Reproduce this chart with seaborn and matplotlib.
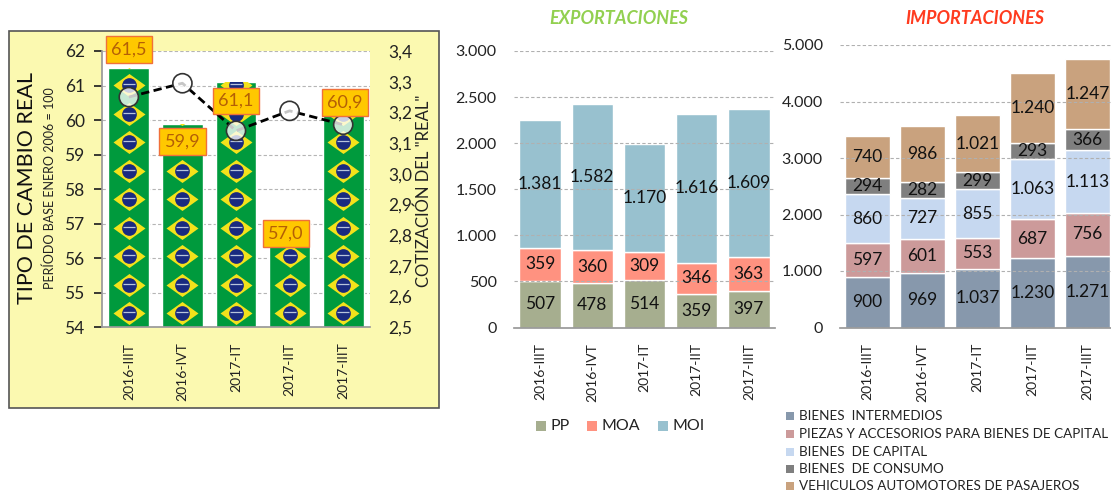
import matplotlib
matplotlib.use("Agg")
import matplotlib.pyplot as plt
import seaborn as sns
import numpy as np
from matplotlib.patches import Rectangle
from matplotlib.path import Path

W, H = 1111, 491
periods = ["2016-IIIT", "2016-IVT", "2017-IT", "2017-IIT", "2017-IIIT"]
tcr = [61.5, 59.9, 61.1, 57.0, 60.9]
real = [3.25, 3.295, 3.14, 3.205, 3.16]
tcr_labels = ["61,5", "59,9", "61,1", "57,0", "60,9"]
label_x = [0.0, 1.0, 2.0, 2.93, 4.03]
label_y = [62.05, 59.37, 60.55, 56.72, 60.5]

pp = [507, 478, 514, 359, 397]
moa = [359, 360, 309, 346, 363]
moi = [1381, 1582, 1170, 1616, 1609]
exp_series = [("PP", pp, "#A6AE8F"), ("MOA", moa, "#FF9280"), ("MOI", moi, "#98C1CF")]

intermedios = [900, 969, 1037, 1230, 1271]
piezas = [597, 601, 553, 687, 756]
capital = [860, 727, 855, 1063, 1113]
consumo = [294, 282, 299, 293, 366]
vehiculos = [740, 986, 1021, 1240, 1247]
imp_series = [
    ("BIENES  INTERMEDIOS", intermedios, "#8798AC"),
    ("PIEZAS Y ACCESORIOS PARA BIENES DE CAPITAL", piezas, "#CC9A9A"),
    ("BIENES  DE CAPITAL", capital, "#C6D8F0"),
    ("BIENES  DE CONSUMO", consumo, "#7F7F7F"),
    ("VEHICULOS AUTOMOTORES DE PASAJEROS", vehiculos, "#C9A27E"),
]

sns.set_theme(style="white")
plt.rcParams["font.family"] = ["Lato", "DejaVu Sans"]
TXT = "#222222"

fig = plt.figure(figsize=(W / 100, H / 100), dpi=100, facecolor="white")

def axes_px(x0, y0, x1, y1):
    return fig.add_axes([x0 / W, 1 - y1 / H, (x1 - x0) / W, (y1 - y0) / H])

def fmt(v):
    return f"{v:,}".replace(",", ".")

def grid_only(ax):
    ax.yaxis.grid(True, color="#B0B0B0", linestyle=(0, (3, 2)), linewidth=0.8)
    ax.set_axisbelow(False)
    ax.xaxis.grid(False)

# Yellow panel
fig.add_artist(Rectangle((9 / W, 1 - 408 / H), 430 / W, 377 / H, transform=fig.transFigure,
                         facecolor="#FBF9B0", edgecolor="#555555", linewidth=1.2, zorder=-5))

# Left chart
ax = axes_px(102, 51, 370, 327.3)
ax.set_facecolor("white")
sns.barplot(x=periods, y=tcr, color="#009A3D", saturation=1, width=0.76, ax=ax, zorder=2)
ax.set_ylim(54, 62)
ax.set_xlim(-0.5, 4.5)
ax.set_yticks(range(54, 63))
ax.yaxis.grid(True, color="#B5B5B5", linestyle=(0, (3, 2)), linewidth=0.8, zorder=1)
ax.set_axisbelow(True)
diamond = Path([(-1, 0), (0, 0.72), (1, 0), (0, -0.72), (-1, 0)], closed=True)
for i, bar in enumerate(ax.patches):
    flag_y = np.arange(54.41, tcr[i] + 0.6, 0.825)
    flag_x = np.full_like(flag_y, i, dtype=float)
    d = ax.scatter(flag_x, flag_y, marker=diamond, s=530, color="#F3E21B", linewidth=0, zorder=3)
    c = ax.scatter(flag_x, flag_y, marker="o", s=112, color="#192A80", linewidth=0, zorder=4)
    b = ax.scatter(flag_x, flag_y + 0.03, marker="_", s=70, color="#B8C4DC", linewidth=0.9, zorder=4.5)
    for art in (d, c, b):
        art.set_clip_path(bar)
ax.tick_params(axis="y", left=False, labelsize=12.5, pad=6.5, colors=TXT)
ax.tick_params(axis="x", bottom=False, labelsize=10, labelrotation=90, pad=5, colors=TXT)
for s in ax.spines.values():
    s.set_visible(False)
for s in ("left", "bottom"):
    ax.spines[s].set_visible(True)
    ax.spines[s].set_color("#999999")

ax2 = ax.twinx()
ax2.set_ylim(2.5, 3.4)
ax2.set_yticks(np.arange(2.5, 3.41, 0.1))
ax2.set_yticklabels(["2,5", "2,6", "2,7", "2,8", "2,9", "3,0", "3,1", "3,2", "3,3", "3,4"])
ax2.grid(False)
ax2.tick_params(axis="y", right=False, labelsize=12.5, pad=7, colors=TXT)
for s in ax2.spines.values():
    s.set_visible(False)
sns.lineplot(x=list(range(5)), y=real, ax=ax2, color="black", linestyle=(0, (3, 1.6)), linewidth=2, zorder=5)
ax2.scatter(range(5), real, s=190, facecolor="white", alpha=0.78, edgecolor="none", zorder=6)
ax2.scatter(range(5), real, s=190, facecolor="none", edgecolor="#333333", linewidth=1.2, zorder=7)

for x, y, t in zip(label_x, label_y, tcr_labels):
    ax2.text(x, y, t, transform=ax.transData, ha="center", va="center", fontsize=13, color="#B45F06",
             zorder=9, clip_on=False,
             bbox=dict(boxstyle="square,pad=0.3", facecolor="#FFC800", edgecolor="#F0703A", linewidth=1))

fig.text(27 / W, 1 - 188 / H, "TIPO DE CAMBIO REAL", rotation=90, ha="center", va="center", fontsize=15.5, color="#111111")
fig.text(50 / W, 1 - 188 / H, "PERÍODO BASE ENERO 2006 = 100", rotation=90, ha="center", va="center", fontsize=9, color=TXT)
fig.text(424 / W, 1 - 191 / H, 'COTIZACIÓN DEL "REAL"', rotation=90, ha="center", va="center", fontsize=12, color=TXT)

def stacked(ax, series, width):
    bottom = np.zeros(5)
    for name, vals, col in series:
        sns.barplot(x=periods, y=vals, bottom=bottom, color=col, saturation=1, width=width, ax=ax, zorder=2, label=name, legend=False)
        for i, v in enumerate(vals):
            ax.text(i, bottom[i] + v / 2, fmt(v), ha="center", va="center", fontsize=12.5, color="#111111", zorder=4)
        bottom = bottom + np.array(vals)
    ax.set_xlim(-0.5, 4.5)
    grid_only(ax)
    ax.tick_params(axis="y", left=False, labelsize=11.5, pad=6.4, colors=TXT)
    ax.tick_params(axis="x", bottom=False, labelsize=10, labelrotation=90, pad=5, colors=TXT)
    ax.set_yticklabels([fmt(int(t)) for t in ax.get_yticks()])
    for s in ax.spines.values():
        s.set_visible(False)
    ax.spines["bottom"].set_visible(True)
    ax.spines["bottom"].set_color("#999999")

# Exports
ax3 = axes_px(514, 51, 775, 327.5)
ax3.set_ylim(0, 3000)
ax3.set_yticks(range(0, 3001, 500))
stacked(ax3, exp_series, 0.79)
fig.text(619 / W, 1 - 18 / H, "EXPORTACIONES", ha="center", va="center", fontsize=13, fontweight="bold", fontstyle="italic", color="#92D050")

# Imports
ax4 = axes_px(840, 45, 1115, 327.5)
ax4.set_ylim(0, 5000)
ax4.set_yticks(range(0, 5001, 1000))
stacked(ax4, imp_series, 0.82)
fig.text(975 / W, 1 - 18 / H, "IMPORTACIONES", ha="center", va="center", fontsize=13, fontweight="bold", fontstyle="italic", color="#FF3B1F")

# Legends
for x, (name, _, col) in zip([536, 587, 658], exp_series):
    fig.add_artist(Rectangle((x / W, 1 - 431 / H), 10 / W, 10 / H, transform=fig.transFigure, facecolor=col, edgecolor="none"))
    fig.text((x + 15) / W, 1 - 426 / H, name, ha="left", va="center", fontsize=11.5, color=TXT)
for y, (name, _, col) in zip([416, 434, 452, 469, 486], imp_series):
    fig.add_artist(Rectangle((786 / W, 1 - (y + 3.5) / H), 7.5 / W, 7.5 / H, transform=fig.transFigure, facecolor=col, edgecolor="none"))
    fig.text(799 / W, 1 - y / H, name, ha="left", va="center", fontsize=9.7, color=TXT)

fig.savefig("out.png", dpi=100)
